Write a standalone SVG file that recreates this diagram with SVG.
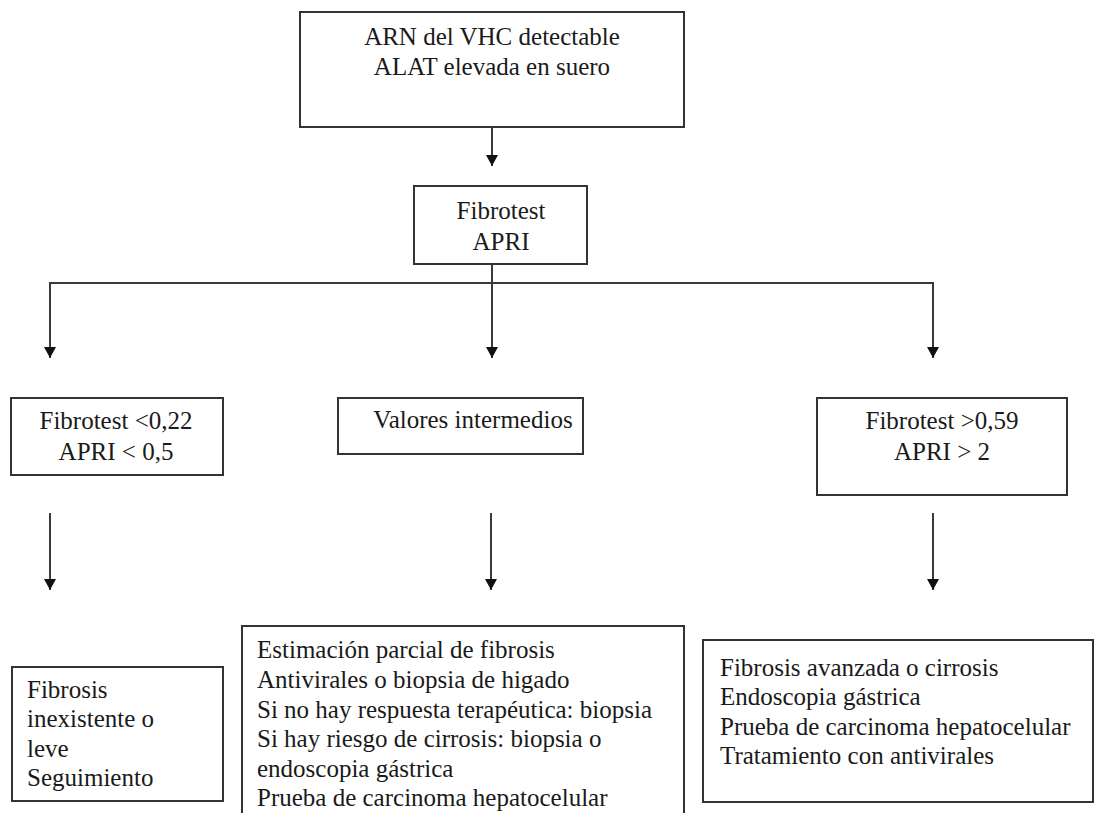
<svg xmlns="http://www.w3.org/2000/svg" width="1098" height="813" viewBox="0 0 1098 813" font-family="Liberation Serif">
<style>
.box{fill:#fff;stroke:#333;stroke-width:2}
.t{font-size:25px;fill:#1a1a1a}
.c{text-anchor:middle}
.ln{fill:none;stroke:#3a3a3a;stroke-width:2}
</style>
<defs>
<marker id="ah" markerUnits="userSpaceOnUse" markerWidth="12" markerHeight="12" refX="11" refY="6" orient="auto" viewBox="0 0 12 12">
<path d="M0,0 L11,6 L0,12 Z" fill="#111"/>
</marker>
</defs>
<rect width="1098" height="813" fill="#fff"/>
<g id="connectors">
<line class="ln" x1="492" y1="127" x2="492" y2="166" marker-end="url(#ah)"/>
<line class="ln" x1="492" y1="264" x2="492" y2="358" marker-end="url(#ah)"/>
<polyline class="ln" points="492,283 50,283 50,358" marker-end="url(#ah)"/>
<polyline class="ln" points="492,283 933,283 933,358" marker-end="url(#ah)"/>
<line class="ln" x1="50" y1="513" x2="50" y2="590" marker-end="url(#ah)"/>
<line class="ln" x1="491" y1="513" x2="491" y2="590" marker-end="url(#ah)"/>
<line class="ln" x1="933" y1="513" x2="933" y2="590" marker-end="url(#ah)"/>
</g>
<g id="n-top">
<rect class="box" x="300" y="12" width="384" height="115"/>
<text class="t c" font-family="Liberation Serif" x="492" y="45">ARN del VHC detectable</text>
<text class="t c" font-family="Liberation Serif" x="492" y="75">ALAT elevada en suero</text>
</g>
<g id="n-fibro">
<rect class="box" x="414" y="186" width="173" height="78"/>
<text class="t c" font-family="Liberation Serif" x="501" y="219">Fibrotest</text>
<text class="t c" font-family="Liberation Serif" x="501" y="250">APRI</text>
</g>
<g id="n-low">
<rect class="box" x="11" y="398" width="212" height="77"/>
<text class="t c" font-family="Liberation Serif" x="116" y="429">Fibrotest &lt;0,22</text>
<text class="t c" font-family="Liberation Serif" x="116" y="460">APRI &lt; 0,5</text>
</g>
<g id="n-mid">
<rect class="box" x="338" y="398" width="245" height="56"/>
<text class="t c" font-family="Liberation Serif" x="473" y="428">Valores intermedios</text>
</g>
<g id="n-high">
<rect class="box" x="817" y="398" width="250" height="97"/>
<text class="t c" font-family="Liberation Serif" x="942" y="429">Fibrotest &gt;0,59</text>
<text class="t c" font-family="Liberation Serif" x="942" y="460">APRI &gt; 2</text>
</g>
<g id="r-low">
<rect class="box" x="12" y="667" width="211" height="134"/>
<text class="t" font-family="Liberation Serif" x="27" y="698">Fibrosis</text>
<text class="t" font-family="Liberation Serif" x="27" y="727">inexistente o</text>
<text class="t" font-family="Liberation Serif" x="27" y="757">leve</text>
<text class="t" font-family="Liberation Serif" x="27" y="786">Seguimiento</text>
</g>
<g id="r-mid">
<rect class="box" x="242" y="626" width="442" height="200"/>
<text class="t" font-family="Liberation Serif" x="257" y="658">Estimación parcial de fibrosis</text>
<text class="t" font-family="Liberation Serif" x="257" y="688">Antivirales o biopsia de higado</text>
<text class="t" font-family="Liberation Serif" x="257" y="718">Si no hay respuesta terapéutica: biopsia</text>
<text class="t" font-family="Liberation Serif" x="257" y="747">Si hay riesgo de cirrosis: biopsia o</text>
<text class="t" font-family="Liberation Serif" x="257" y="777">endoscopia gástrica</text>
<text class="t" font-family="Liberation Serif" x="257" y="806">Prueba de carcinoma hepatocelular</text>
</g>
<g id="r-high">
<rect class="box" x="703" y="640" width="390" height="162"/>
<text class="t" font-family="Liberation Serif" x="720" y="676">Fibrosis avanzada o cirrosis</text>
<text class="t" font-family="Liberation Serif" x="720" y="705">Endoscopia gástrica</text>
<text class="t" font-family="Liberation Serif" x="720" y="735">Prueba de carcinoma hepatocelular</text>
<text class="t" font-family="Liberation Serif" x="720" y="764">Tratamiento con antivirales</text>
</g>
</svg>
